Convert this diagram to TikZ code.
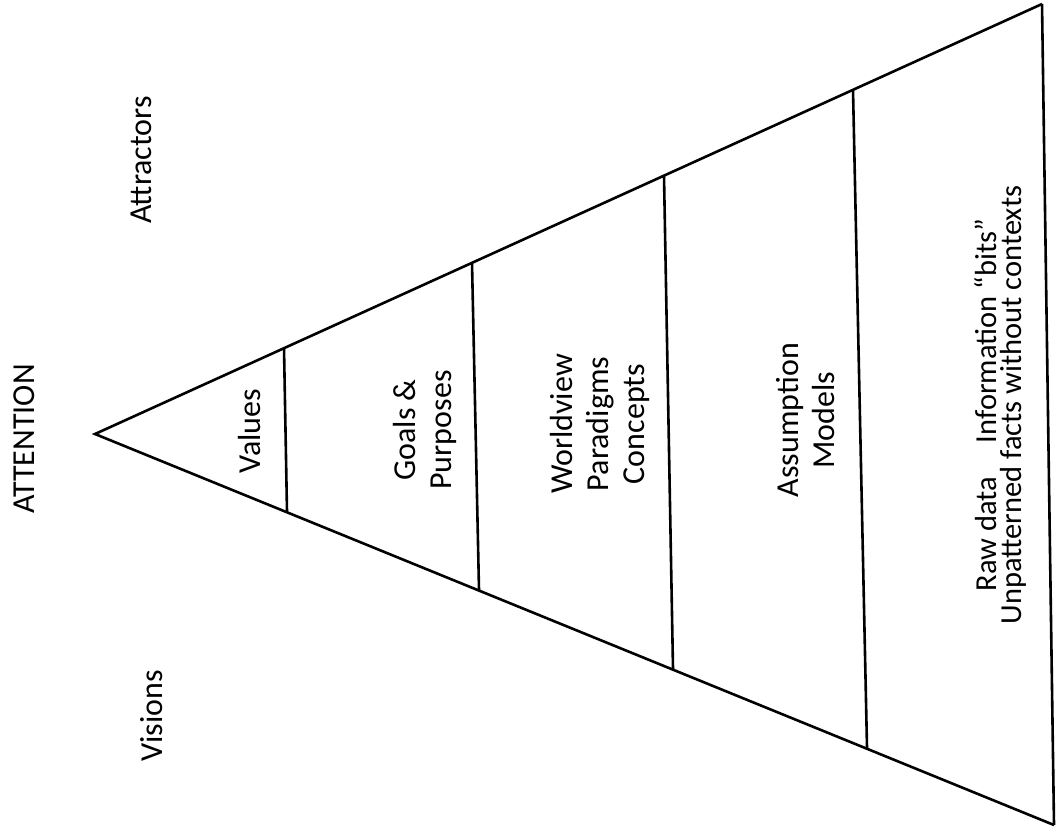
\documentclass[tikz,border=0pt]{standalone}
\usepackage{fontspec}
\setmainfont{Carlito}
\begin{document}
\begin{tikzpicture}[x=1pt,y=-1pt,
  edge/.style={line width=2.6pt, line join=miter},
  lbl/.style={rotate=90, align=center, inner sep=0pt, font=\fontsize{32}{36}\selectfont},
  lbltight/.style={rotate=90, align=center, inner sep=0pt, font=\fontsize{30.5}{25}\selectfont}]
\useasboundingbox (0,0) rectangle (1056,839);
% triangle corners
\coordinate (apex) at (95,434);
\coordinate (tr) at (1042,4);
\coordinate (br) at (1054,825);
\draw[edge] (tr) -- (apex) -- (br);
\draw[edge] (tr) -- (br);
% dividers
\coordinate (d1t) at (284,348); \coordinate (d1b) at (287,512);
\coordinate (d2t) at (472,263); \coordinate (d2b) at (479,590);
\coordinate (d3t) at (664,176); \coordinate (d3b) at (673,669);
\coordinate (d4t) at (853,90);  \coordinate (d4b) at (867,748);
\draw[edge] (d1t) -- (d1b);
\draw[edge] (d2t) -- (d2b);
\draw[edge] (d3t) -- (d3b);
\draw[edge] (d4t) -- (d4b);
% labels
\node[lbl] (attention) at (24,439) {ATTENTION};
\node[lbl] (attractors) at (141,160) {Attractors};
\node[lbl] (visions) at (152,716) {Visions};
\node[lbl] (values) at (250,431) {Values};
\node[lbl] (goals) at (425,430) {Goals \&\\Purposes};
\node[lbl] (world) at (600,424) {Worldview\\Paradigms\\Concepts};
\node[lbl] (assump) at (806,420) {Assumption\\Models};
\node[lbltight] (raw) at (1000,405) {Raw data\hspace{1.1em}Information “bits”\\Unpatterned facts without contexts};
\end{tikzpicture}
\end{document}
